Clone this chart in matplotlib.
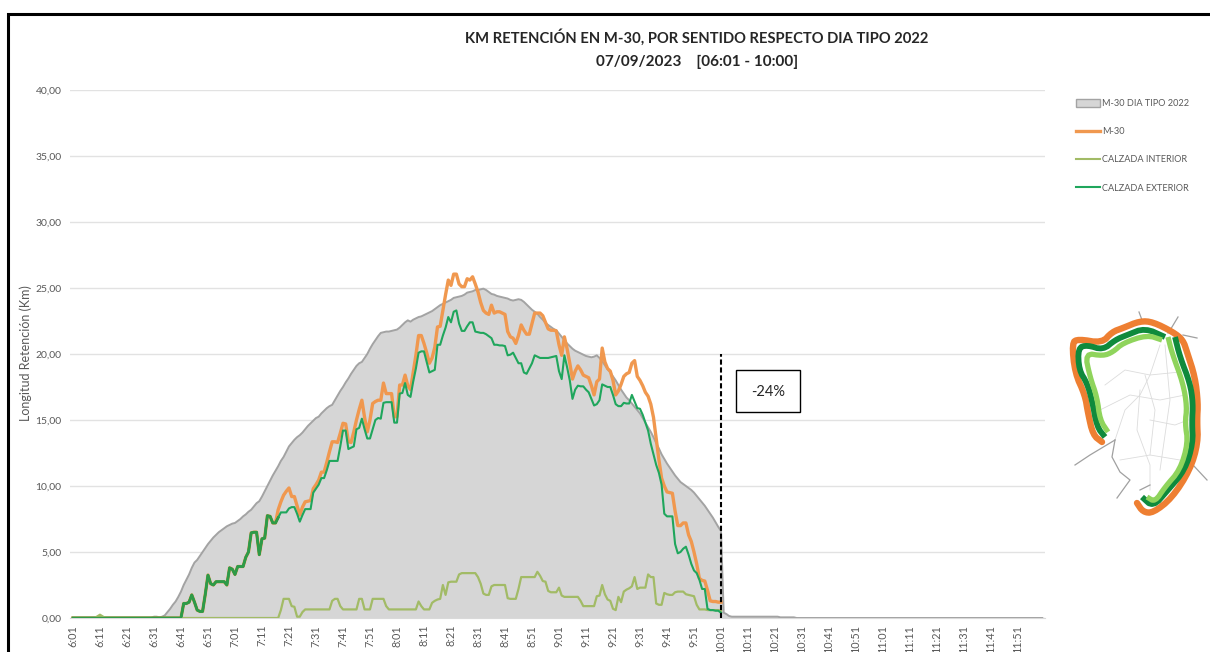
#required libraries
import matplotlib
matplotlib.use("Agg")
import matplotlib.pyplot as plt
from matplotlib.lines import Line2D
from matplotlib.patches import Patch, Rectangle
import numpy as np

plt.rcParams['font.family'] = ['Lato', 'DejaVu Sans']

WIDTH, HEIGHT = 1210, 652

# km per minute, first value is 6:01
dia_tipo = [0.0] * 30 + [
    0.1, 0.1, 0.05, 0.1, 0.2, 0.45, 0.7, 1.0, 1.25, 1.6,
    2.0, 2.5, 2.9, 3.3, 3.8, 4.2, 4.4, 4.7, 5.0, 5.3,
    5.6, 5.85, 6.1, 6.3, 6.5, 6.65, 6.8, 6.95, 7.05, 7.15,
    7.2, 7.35, 7.5, 7.7, 7.85, 8.05, 8.2, 8.45, 8.7, 8.85,
    9.2, 9.6, 10.0, 10.4, 10.8, 11.15, 11.5, 11.9, 12.2, 12.6,
    13.0, 13.25, 13.5, 13.7, 13.85, 14.05, 14.3, 14.55, 14.75, 14.95,
    15.15, 15.25, 15.5, 15.7, 15.9, 16.05, 16.15, 16.5, 16.85, 17.2,
    17.5, 17.85, 18.15, 18.5, 18.8, 19.1, 19.3, 19.4, 19.7, 20.0,
    20.4, 20.75, 21.05, 21.35, 21.6, 21.65, 21.7, 21.7, 21.75, 21.8,
    21.85, 22.0, 22.2, 22.4, 22.55, 22.45, 22.6, 22.7, 22.8, 22.85,
    22.95, 23.05, 23.15, 23.25, 23.4, 23.55, 23.7, 23.8, 23.9, 24.0,
    24.1, 24.25, 24.3, 24.35, 24.4, 24.5, 24.65, 24.7, 24.75, 24.85,
    24.85, 24.9, 24.95, 24.85, 24.7, 24.55, 24.5, 24.4, 24.35, 24.3,
    24.25, 24.2, 24.1, 24.05, 24.1, 24.15, 24.1, 23.95, 23.75, 23.55,
    23.35, 23.2, 23.05, 22.8, 22.6, 22.35, 22.2, 22.05, 21.9, 21.8,
    21.55, 21.3, 21.05, 20.8, 20.6, 20.4, 20.25, 20.15, 20.05, 19.95,
    19.85, 19.8, 19.75, 19.8, 19.9, 19.7, 19.45, 19.15, 18.85, 18.6,
    18.3, 18.0, 17.65, 17.3, 17.0, 16.7, 16.5, 16.25, 16.0, 15.75,
    15.5, 15.15, 14.8, 14.45, 14.1, 13.7, 13.25, 12.85, 12.4, 12.05,
    11.7, 11.4, 11.1, 10.8, 10.55, 10.3, 10.15, 10.0, 9.85, 9.7,
    9.5, 9.25, 9.0, 8.75, 8.5, 8.2, 7.9, 7.6, 7.25, 6.9,
    6.6, 0.4, 0.3, 0.15] + [0.1] * 18 + [0.05] * 6 + [0.0] * 92

exterior = [0.0] * 41 + [
    1.1, 1.1, 1.2, 1.75, 1.2, 0.6, 0.5, 0.5, 1.8,
    3.25, 2.6, 2.5, 2.75, 2.75, 2.75, 2.75, 2.5, 3.8, 3.7,
    3.3, 3.9, 3.9, 3.9, 4.6, 5.0, 6.45, 6.5, 6.5, 4.8,
    6.0, 6.05, 7.75, 7.7, 7.2, 7.2, 7.6, 8.0, 8.0, 8.0,
    8.3, 8.4, 8.4, 7.9, 7.3, 7.8, 8.25, 8.25, 8.25, 9.5,
    9.8, 10.1, 10.6, 10.6, 11.2, 11.9, 11.9, 11.9, 11.9, 13.0,
    14.2, 14.2, 12.8, 12.9, 13.0, 14.3, 14.4, 15.1, 14.3, 13.6,
    13.6, 14.3, 15.0, 15.15, 15.1, 16.3, 16.35, 16.35, 16.35, 14.8,
    14.8, 17.0, 17.05, 17.8, 16.9, 16.75, 17.9, 18.9, 20.1, 20.2,
    20.2, 19.4, 18.6, 18.7, 18.8, 20.7, 20.7, 21.4, 22.0, 22.8,
    22.4, 23.2, 23.3, 22.3, 21.75, 21.75, 22.1, 22.4, 22.4, 21.7,
    21.65, 21.6, 21.6, 21.5, 21.35, 21.2, 20.7, 20.7, 20.65, 20.65,
    20.6, 19.9, 19.95, 20.1, 19.7, 19.3, 19.3, 18.6, 18.5, 18.9,
    19.3, 19.9, 19.8, 19.7, 19.7, 19.7, 19.7, 19.75, 19.8, 19.85,
    18.7, 18.1, 19.9, 19.0, 18.0, 16.6, 17.3, 17.6, 17.55, 17.55,
    17.3, 17.1, 16.6, 16.1, 16.2, 16.5, 17.7, 17.6, 17.5, 17.5,
    16.9, 16.2, 16.05, 16.05, 16.3, 16.25, 16.25, 16.9, 16.4, 15.9,
    15.85, 15.4, 14.8, 14.2, 13.2, 12.4, 11.6, 11.0, 10.1, 7.9,
    7.7, 7.7, 7.7, 5.6, 4.9, 5.0, 5.25, 5.4, 4.8, 4.1,
    3.6, 3.4, 2.9, 2.2, 2.2, 0.7, 0.6, 0.6, 0.55, 0.55,
    0.4]

m30 = exterior[:76] + [
    8.2, 8.8, 9.3, 9.6,
    9.85, 9.2, 9.2, 8.5, 7.8, 8.4, 8.8, 8.85, 8.9, 9.8,
    10.1, 10.45, 11.05, 11.05, 11.8, 12.6, 13.35, 13.35, 13.3, 14.0,
    14.75, 14.7, 13.35, 13.3, 14.1, 15.0, 15.8, 16.5, 15.2, 14.1,
    15.0, 16.25, 16.4, 16.5, 16.5, 17.8, 17.0, 17.0, 17.0, 15.25,
    15.25, 17.65, 17.65, 18.4, 17.6, 17.3, 18.6, 19.9, 21.4, 21.4,
    20.8, 20.1, 19.3, 19.7, 20.5, 22.05, 22.1, 23.3, 24.5, 25.6,
    25.2, 26.05, 26.05, 25.3, 25.1, 25.1, 25.7, 25.6, 25.85, 25.3,
    24.7, 23.9, 23.3, 23.1, 23.0, 23.7, 23.1, 23.2, 23.2, 23.1,
    23.0, 21.7, 21.3, 21.2, 20.8, 21.4, 22.2, 21.8, 21.5, 21.5,
    22.3, 23.1, 23.1, 23.1, 22.9, 22.4, 21.9, 21.8, 21.8, 21.75,
    20.7, 19.9, 21.3, 20.4, 19.3, 18.1, 18.7, 19.1, 18.8, 18.4,
    18.3, 18.2, 17.6, 16.9, 17.9, 18.1, 20.45, 19.4, 18.9, 18.7,
    18.0, 16.9, 17.2, 17.7, 18.3, 18.5, 18.6, 19.3, 19.5, 18.3,
    18.0, 17.6, 17.1, 16.8, 16.2, 15.2, 13.6, 12.0, 10.6, 10.0,
    9.55, 9.5, 9.45, 8.1, 7.0, 7.0, 7.2, 7.2, 6.3, 5.8,
    5.0, 4.1, 3.0, 2.85, 2.8, 2.1, 1.3, 1.25, 1.25, 1.2,
    1.2]

interior = [0.0] * 9 + [0.12, 0.25, 0.12] + [0.0] * 65 + [
    0.6, 1.45, 1.45, 1.45, 0.9, 0.85, 0.1, 0.1, 0.45, 0.65,
    0.65, 0.65, 0.65, 0.65, 0.65, 0.65, 0.65, 0.65, 0.65, 1.3,
    1.45, 1.45, 0.9, 0.65, 0.65, 0.65, 0.65, 0.65, 0.65, 1.45,
    1.45, 0.65, 0.65, 0.65, 1.45, 1.45, 1.45, 1.45, 1.45, 0.9,
    0.65, 0.65, 0.65, 0.65, 0.65, 0.65, 0.65, 0.65, 0.65, 0.65,
    0.65, 1.25, 0.9, 0.65, 0.65, 0.65, 1.15, 1.3, 1.4, 1.45,
    2.5, 1.75, 2.7, 2.75, 2.75, 2.75, 3.3, 3.4, 3.4, 3.4,
    3.4, 3.4, 3.4, 3.1, 2.6, 1.85, 1.75, 1.75, 2.4, 2.5,
    2.5, 2.5, 2.5, 2.5, 1.5, 1.45, 1.45, 1.45, 2.2, 3.1,
    3.1, 3.1, 3.1, 3.1, 3.1, 3.5, 3.2, 2.8, 2.75, 2.05,
    1.95, 1.95, 1.95, 2.3, 1.7, 1.6, 1.6, 1.6, 1.6, 1.6,
    1.6, 1.3, 0.9, 0.9, 0.9, 0.9, 0.9, 1.65, 1.7, 2.5,
    1.8, 1.4, 1.3, 0.7, 0.6, 1.6, 1.2, 2.0, 2.15, 2.25,
    2.4, 3.1, 2.2, 2.3, 2.3, 2.3, 3.3, 3.1, 3.1, 1.1,
    1.0, 1.0, 1.9, 1.8, 1.75, 1.75, 1.95, 2.0, 2.0, 2.0,
    1.8, 1.75, 1.7, 1.65, 1.0, 0.65, 0.65, 0.65, 0.6, 0.6,
    0.6, 0.6, 0.6, 0.55]

tick_labels = ['6:01', '6:11', '6:21', '6:31', '6:41', '6:51',
               '7:01', '7:11', '7:21', '7:31', '7:41', '7:51',
               '8:01', '8:11', '8:21', '8:31', '8:41', '8:51',
               '9:01', '9:11', '9:21', '9:31', '9:41', '9:51',
               '10:01', '10:11', '10:21', '10:31', '10:41', '10:51',
               '11:01', '11:11', '11:21', '11:31', '11:41', '11:51']
y_ticks = [0, 5, 10, 15, 20, 25, 30, 35, 40]
y_labels = ['0,00', '5,00', '10,00', '15,00', '20,00', '25,00', '30,00', '35,00', '40,00']
cut_minute = 240
cut_top = 20
# up to here M-30 and the exterior carriageway are the same line
same_until = 77

# map of the ring, figure pixels
ring_orange = [[(1102, 442), (1093, 435), (1088, 413), (1085, 395), (1075, 373), (1072, 343), (1078, 339),
                (1102, 343), (1112, 332), (1123, 328), (1140, 321), (1153, 322), (1173, 332), (1183, 340),
                (1187, 352), (1195, 377), (1198, 403), (1197, 420), (1198, 443), (1190, 470), (1172, 498),
                (1153, 513), (1143, 512), (1137, 503)]]
ring_dark = [[(1105, 437), (1097, 427), (1092, 400), (1087, 383), (1079, 370), (1078, 348), (1087, 345),
              (1103, 350), (1115, 340), (1127, 335), (1145, 328), (1165, 337)],
             [(1175, 337), (1180, 357), (1190, 383), (1193, 403), (1192, 423), (1193, 443), (1185, 470),
              (1168, 490), (1153, 507), (1142, 497)]]
ring_light = [[(1108, 432), (1100, 420), (1097, 397), (1090, 377), (1085, 353), (1103, 356), (1113, 352),
               (1123, 343), (1147, 335), (1162, 340)],
              [(1168, 337), (1172, 353), (1183, 383), (1187, 407), (1185, 423), (1188, 443), (1180, 470),
               (1165, 487), (1155, 502), (1147, 497)]]
roads_dark = [[(1139, 312), (1142, 320)], [(1178, 317), (1172, 327), (1168, 333)], [(1183, 335), (1197, 338)],
              [(1193, 465), (1207, 480)], [(1115, 440), (1090, 455), (1075, 465)],
              [(1115, 440), (1112, 457), (1120, 472), (1130, 480), (1117, 498)], [(1140, 490), (1150, 485)]]
roads_light = [[(1115, 440), (1125, 410), (1140, 395), (1150, 375), (1160, 345)],
               [(1100, 410), (1130, 395), (1160, 400), (1185, 395)],
               [(1140, 390), (1137, 430), (1150, 465), (1150, 490)],
               [(1105, 385), (1125, 370), (1150, 375), (1180, 372)],
               [(1120, 460), (1150, 455), (1180, 460)], [(1150, 420), (1175, 425), (1188, 420)],
               [(1145, 375), (1155, 410), (1150, 455)], [(1165, 345), (1170, 400), (1160, 470)]]


def rounded(path):
    # cut the corners twice so the ring does not look like a polygon
    pts = np.array(path, dtype=float)
    for _ in range(2):
        left = 0.75 * pts[:-1] + 0.25 * pts[1:]
        right = 0.25 * pts[:-1] + 0.75 * pts[1:]
        middle = np.empty((len(left) * 2, 2))
        middle[0::2] = left
        middle[1::2] = right
        pts = np.vstack([pts[0], middle, pts[-1]])
    return pts[:, 0], pts[:, 1]


fig = plt.figure(figsize=(WIDTH / 100, HEIGHT / 100), dpi=100, facecolor='white')

# 0 km sits at y=618 and 40 km at y=90, each minute is 2.7 px
ax = fig.add_axes([70 / WIDTH, 1 - 618 / HEIGHT, 975 / WIDTH, 528 / HEIGHT])
ax.fill_between(np.arange(len(dia_tipo)), dia_tipo, color='#d6d6d6', edgecolor='none', zorder=2)
ax.plot(np.arange(len(dia_tipo)), dia_tipo, color='#a3a3a3', linewidth=1.4, zorder=3)
ax.plot(np.arange(len(m30)), m30, color='#f0984f', linewidth=2.4, zorder=4)
ax.plot(np.arange(same_until), exterior[:same_until], color='#2f9a47', linewidth=2.0, zorder=4.5)
ax.plot(np.arange(len(interior)), interior, color='#a2bb66', linewidth=1.6, zorder=5)
ax.plot(np.arange(len(exterior)), exterior, color='#1fa65c', linewidth=1.5, zorder=6)
ax.plot(np.arange(same_until), exterior[:same_until], color='#2f9a47', linewidth=1.6, zorder=6.5)
ax.plot([cut_minute, cut_minute], [0, cut_top], color='black', linewidth=1.5, linestyle=(0, (2.5, 1.3)), zorder=7)

ax.set_xlim(-1.1, 360)
ax.set_ylim(0, 40)
ax.set_xticks(np.arange(len(tick_labels)) * 10)
ax.set_xticklabels(tick_labels, rotation=90, fontsize=7.8, color='#595959')
ax.set_yticks(y_ticks)
ax.set_yticklabels(y_labels, fontsize=7.5, color='#595959')
ax.tick_params(axis='x', length=0, pad=5)
ax.tick_params(axis='y', length=0, pad=6)
ax.grid(axis='y', color='#e2e2e2', linewidth=1.0, zorder=0)
ax.set_axisbelow(True)
for side in ['top', 'right', 'left']:
    ax.spines[side].set_visible(False)
ax.spines['bottom'].set_color('#d9d9d9')
ax.set_ylabel('Longitud Retención (Km)', fontsize=9, color='#595959')
ax.yaxis.set_label_coords((32 - 70) / 975, (618 - 353) / 528)

handles = [Patch(facecolor='#d6d6d6', edgecolor='#a3a3a3', linewidth=1.0),
           Line2D([], [], color='#f0984f', linewidth=2.4),
           Line2D([], [], color='#a2bb66', linewidth=1.5),
           Line2D([], [], color='#1fa65c', linewidth=1.5)]
fig.legend(handles, ['M-30 DIA TIPO 2022', 'M-30', 'CALZADA INTERIOR', 'CALZADA EXTERIOR'],
           loc='upper left', bbox_to_anchor=(1076 / WIDTH, 1 - 99 / HEIGHT), frameon=False, fontsize=6.6,
           labelcolor='#595959', handlelength=2.6, handleheight=0.9, handletextpad=0.25, labelspacing=2.1,
           borderpad=0, borderaxespad=0)

fig.text(697 / WIDTH, 1 - 37 / HEIGHT, 'KM RETENCIÓN EN M-30, POR SENTIDO RESPECTO DIA TIPO 2022',
         ha='center', va='center', fontsize=10.6, fontweight='bold', color='#262626')
fig.text(697 / WIDTH, 1 - 62 / HEIGHT, '07/09/2023    [06:01 - 10:00]',
         ha='center', va='center', fontsize=11, fontweight='bold', color='#262626')

# overlay in pixels for the frame, the note and the map
over = fig.add_axes([0, 0, 1, 1], facecolor='none')
over.set_xlim(0, WIDTH)
over.set_ylim(HEIGHT, 0)
over.axis('off')
over.add_patch(Rectangle((736, 370), 64, 42, facecolor='white', edgecolor='black', linewidth=1.0))
over.text(768, 392, '-24%', ha='center', va='center', fontsize=10.5, color='#262626')
over.plot([7.5, 7.5, WIDTH], [HEIGHT, 13.5, 13.5], color='black', linewidth=2.2, solid_joinstyle='miter')

for path in roads_light:
    over.plot(*zip(*path), color='#dcdcdc', linewidth=0.6)
for path in roads_dark:
    over.plot(*zip(*path), color='#a0a0a0', linewidth=0.9)
for path in ring_orange:
    over.plot(*rounded(path), color='#ee7f32', linewidth=4.6, solid_capstyle='round')
for path in ring_dark:
    over.plot(*rounded(path), color='#0f8a3c', linewidth=4.2, solid_capstyle='butt')
for path in ring_light:
    over.plot(*rounded(path), color='#8fd45c', linewidth=3.8, solid_capstyle='butt')

plt.savefig('out.png', dpi=100)
